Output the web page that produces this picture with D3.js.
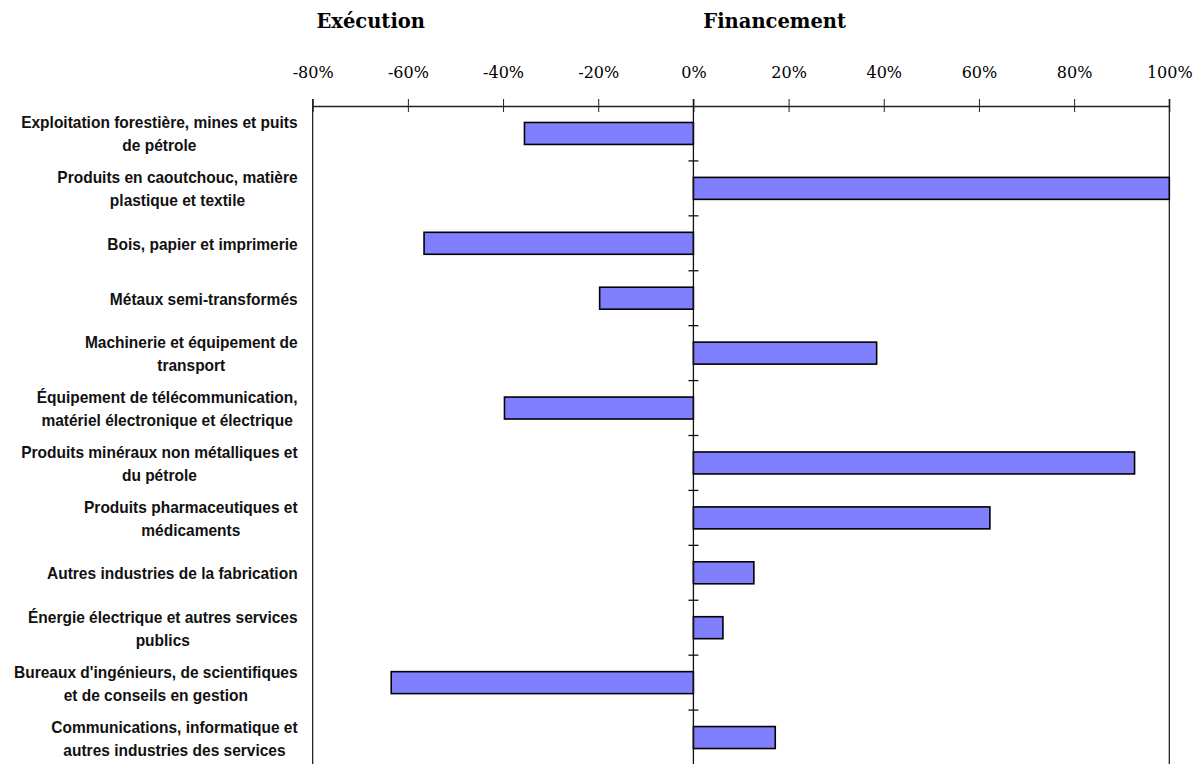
<!DOCTYPE html>
<html lang="fr">
<head>
<meta charset="utf-8">
<script src="https://cdn.jsdelivr.net/npm/d3@7"></script>
<style>
  html, body { margin: 0; padding: 0; background: #fff; }
  svg { display: block; }
</style>
</head>
<body>
<svg id="chart" width="1200" height="764"></svg>
<script>
// Secteurs industriels (libellés sur une ou deux lignes)
const categories = [
  "Exploitation forestière, mines et puits\nde pétrole",
  "Produits en caoutchouc, matière\nplastique et textile",
  "Bois, papier et imprimerie",
  "Métaux semi-transformés",
  "Machinerie et équipement de\ntransport",
  "Équipement de télécommunication,\nmatériel électronique et électrique",
  "Produits minéraux non métalliques et\ndu pétrole",
  "Produits pharmaceutiques et\nmédicaments",
  "Autres industries de la fabrication",
  "Énergie électrique et autres services\npublics",
  "Bureaux d'ingénieurs, de scientifiques\net de conseils en gestion",
  "Communications, informatique et\nautres industries des services"
];

// Solde : négatif = exécution, positif = financement
const values = [-0.355, 1.00, -0.566, -0.197, 0.385, -0.397, 0.927, 0.623, 0.127, 0.062, -0.635, 0.172];

const tickValues = [-0.8, -0.6, -0.4, -0.2, 0, 0.2, 0.4, 0.6, 0.8, 1.0];
const sideTitles = ["Exécution", "Financement"];

const svg = d3.select("#chart");

const x = d3.scaleLinear().domain([-0.8, 1.0]).range([312.7, 1169.3]);
const y = d3.scaleBand().domain(categories).range([106, 765])
  .paddingInner(0.6).paddingOuter(0.3);

const serif = "'DejaVu Serif', 'Liberation Serif', serif";
const sans = "'Liberation Sans', Arial, sans-serif";

// Titres des deux côtés
svg.selectAll("text.side-title")
  .data(sideTitles)
  .join("text")
  .attr("class", "side-title")
  .attr("x", (d, i) => i === 0 ? 370.7 : 774.7)
  .attr("y", 28)
  .attr("text-anchor", "middle")
  .style("font-family", serif)
  .style("font-weight", "bold")
  .style("font-size", "19.5px")
  .attr("fill", "#000")
  .text(d => d);

// Axe supérieur en pourcentages
const axisTop = d3.axisTop(x)
  .tickValues(tickValues)
  .tickFormat(d => Math.round(d * 100) + "%")
  .tickSize(6)
  .tickSizeOuter(0);

const gx = svg.append("g")
  .attr("transform", "translate(0,106)")
  .call(axisTop);
gx.select(".domain").attr("stroke", "#222").attr("stroke-width", 1.3);
gx.selectAll(".tick line").attr("stroke", "#222").attr("y1", 6).attr("y2", -7);
gx.selectAll(".tick text")
  .attr("y", -27.7)
  .attr("dy", 0)
  .style("font-family", serif)
  .style("font-size", "16px")
  .attr("fill", "#000");

// Bordures gauche et droite de la zone de tracé
svg.selectAll("line.frame")
  .data([x.domain()[0], x.domain()[1]])
  .join("line")
  .attr("class", "frame")
  .attr("x1", d => x(d)).attr("x2", d => x(d))
  .attr("y1", 99).attr("y2", 765)
  .attr("stroke", "#111").attr("stroke-width", 1.2);

// Barres
svg.append("g")
  .selectAll("rect")
  .data(categories.map((c, i) => ({ c, v: values[i] })))
  .join("rect")
  .attr("x", d => x(Math.min(0, d.v)))
  .attr("width", d => Math.abs(x(d.v) - x(0)))
  .attr("y", d => y(d.c))
  .attr("height", y.bandwidth())
  .attr("fill", "#8080FF")
  .attr("stroke", "#000")
  .attr("stroke-width", 1.6);

// Axe vertical au zéro, avec repères entre les catégories
const step = y.step();
const y0 = y.range()[0];
svg.append("line")
  .attr("x1", x(0)).attr("x2", x(0))
  .attr("y1", 99).attr("y2", 765)
  .attr("stroke", "#111").attr("stroke-width", 1.3);
svg.append("g")
  .selectAll("line")
  .data(d3.range(1, categories.length + 1))
  .join("line")
  .attr("x1", x(0) - 5).attr("x2", x(0) + 5)
  .attr("y1", i => y0 + i * step).attr("y2", i => y0 + i * step)
  .attr("stroke", "#111").attr("stroke-width", 1.3);

// Libellés des catégories : police resserrée, lignes centrées entre elles,
// bloc aligné à droite contre l'axe
const labelRight = 297.7;
const lineGap = 23;
const squeeze = 0.94;
const labels = svg.append("g");
categories.forEach(c => {
  const lines = c.split("\n");
  const cy = y(c) + y.bandwidth() / 2;
  const g = labels.append("g");
  const texts = g.selectAll("text")
    .data(lines)
    .join("text")
    .attr("x", 0)
    .attr("y", (d, i) => cy + 6.5 + (i - (lines.length - 1) / 2) * lineGap)
    .attr("text-anchor", "middle")
    .style("font-family", sans)
    .style("font-weight", "bold")
    .style("font-size", "16.5px")
    .attr("fill", "#111")
    .text(d => d);
  let w = 0;
  texts.each(function () { w = Math.max(w, this.getComputedTextLength()); });
  g.attr("transform", `translate(${labelRight - (w * squeeze) / 2},0) scale(${squeeze},1)`);
});
</script>
</body>
</html>
